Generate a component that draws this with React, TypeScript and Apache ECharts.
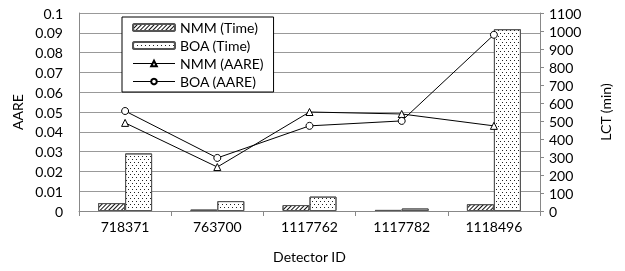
import React, { useEffect, useRef } from "react";
import * as echarts from "echarts";

const categories = ["718371", "763700", "1117762", "1117782", "1118496"];
const nmmTime = [44, 8, 33, 6, 38];
const boaTime = [320, 55, 80, 14, 1010];
const nmmAare = [0.0445, 0.0222, 0.0500, 0.0490, 0.0430];
const boaAare = [0.0505, 0.0268, 0.0430, 0.0455, 0.0890];
const leftTicks = { min: 0, max: 0.1, interval: 0.01 };
const rightTicks = { min: 0, max: 1100, interval: 100 };

const FONT = "Lato";

export default function App() {
  const ref = useRef<HTMLDivElement>(null);
  useEffect(() => {
    const chart = echarts.init(ref.current!, null, { renderer: "svg" });
    chart.setOption({
      animation: false,
      textStyle: { fontFamily: FONT, color: "#000" },
      grid: { left: 79, right: 85, top: 13, bottom: 60 },
      legend: {
        orient: "vertical",
        left: 122,
        top: 17,
        width: 158,
        padding: [2, 10, 2, 10],
        itemGap: 1,
        itemWidth: 42,
        itemHeight: 7,
        backgroundColor: "#fff",
        borderColor: "#000",
        borderWidth: 1,
        lineStyle: { width: 1 },
        textStyle: { fontFamily: FONT, fontSize: 14, color: "#000", lineHeight: 17 },
        data: ["NMM (Time)", "BOA (Time)", "NMM (AARE)", "BOA (AARE)"],
      },
      xAxis: {
        type: "category",
        data: categories,
        name: "Detector ID",
        nameLocation: "middle",
        nameGap: 38,
        nameTextStyle: { fontFamily: FONT, fontSize: 14, color: "#000" },
        axisLine: { lineStyle: { color: "#888" } },
        axisTick: { show: true, length: 5, lineStyle: { color: "#888" } },
        axisLabel: { fontFamily: FONT, fontSize: 14, color: "#000", margin: 8 },
      },
      yAxis: [
        {
          type: "value",
          ...leftTicks,
          name: "AARE",
          nameLocation: "middle",
          nameGap: 52,
          nameRotate: 90,
          nameTextStyle: { fontFamily: FONT, fontSize: 14, color: "#000" },
          axisLine: { show: true, lineStyle: { color: "#888" } },
          axisTick: { show: false },
          axisLabel: { fontFamily: FONT, fontSize: 14, color: "#000", margin: 16 },
          splitLine: { show: true, lineStyle: { color: "#999", width: 1 } },
        },
        {
          type: "value",
          ...rightTicks,
          name: "LCT (min)",
          nameLocation: "middle",
          nameGap: 58,
          nameRotate: 90,
          nameTextStyle: { fontFamily: FONT, fontSize: 14, color: "#000" },
          axisLine: { show: true, lineStyle: { color: "#888" } },
          axisTick: { show: true, inside: false, length: 4, lineStyle: { color: "#888" } },
          axisLabel: {
            fontFamily: FONT,
            fontSize: 14,
            color: "#000",
            margin: 9,
            formatter: (v: number) => String(v),
          },
          splitLine: { show: false },
        },
      ],
      series: [
        {
          name: "NMM (Time)",
          type: "bar",
          yAxisIndex: 1,
          data: nmmTime,
          barWidth: 27,
          barGap: "0%",
          itemStyle: {
            color: "#fff",
            borderColor: "#555",
            borderWidth: 1,
            decal: {
              symbol: "rect",
              symbolSize: 1,
              color: "#111",
              dashArrayX: [1, 0],
              dashArrayY: [1, 2],
              rotation: -Math.PI / 4,
            },
          },
        },
        {
          name: "BOA (Time)",
          type: "bar",
          yAxisIndex: 1,
          data: boaTime,
          barWidth: 27,
          barGap: "0%",
          itemStyle: {
            color: "#fff",
            borderColor: "#555",
            borderWidth: 1,
            decal: {
              symbol: "rect",
              symbolSize: 1,
              color: "#222",
              dashArrayX: [[1, 3], [0, 2, 1, 1]],
              dashArrayY: [1, 2],
            },
          },
        },
        {
          name: "NMM (AARE)",
          type: "line",
          yAxisIndex: 0,
          data: nmmAare,
          symbol: "triangle",
          symbolSize: 7,
          lineStyle: { color: "#000", width: 1 },
          itemStyle: { color: "#fff", borderColor: "#000", borderWidth: 1 },
        },
        {
          name: "BOA (AARE)",
          type: "line",
          yAxisIndex: 0,
          data: boaAare,
          symbol: "circle",
          symbolSize: 7,
          lineStyle: { color: "#000", width: 1 },
          itemStyle: { color: "#fff", borderColor: "#000", borderWidth: 1 },
        },
      ],
    });
    return () => chart.dispose();
  }, []);
  return (
    <div
      ref={ref}
      style={{ position: "fixed", left: 0, top: 0, width: 625, height: 271 }}
    />
  );
}
